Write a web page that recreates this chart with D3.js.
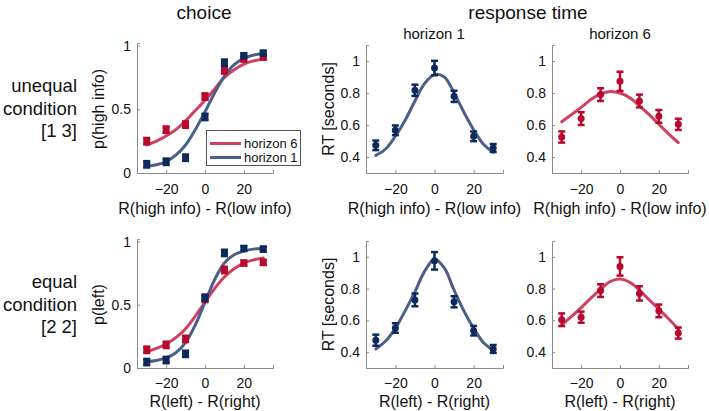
<!DOCTYPE html>
<html><head><meta charset="utf-8">
<script src="https://cdn.jsdelivr.net/npm/d3@7"></script>
<style>body{margin:0;background:#fff}svg{display:block;font-family:"Liberation Sans",Arial,sans-serif}</style>
</head><body><svg id="c" width="709" height="411"></svg>
<script>
// ---------- data ----------
const xs = [-30, -20, -10, 0, 10, 20, 30];
const fitX = [-30, -25, -20, -15, -10, -5, 0, 5, 10, 15, 20, 25, 30];
const xTicks = [-20, 0, 20];
const choiceTicks = [0, 0.5, 1];
const rtTicks = [0.4, 0.6, 0.8, 1];

// unequal condition [1 3]
const uneqChoiceH6 = [0.25, 0.34, 0.38, 0.60, 0.805, 0.895, 0.91];
const uneqChoiceH1 = [0.068, 0.088, 0.12, 0.44, 0.865, 0.92, 0.94];
const uneqChoiceFitH6 = [0.22, 0.25, 0.29, 0.34, 0.41, 0.49, 0.57, 0.66, 0.75, 0.81, 0.855, 0.88, 0.895];
const uneqChoiceFitH1 = [0.055, 0.065, 0.09, 0.14, 0.22, 0.34, 0.48, 0.63, 0.76, 0.85, 0.90, 0.925, 0.94];
const uneqRTH1 = [0.473, 0.567, 0.817, 0.956, 0.779, 0.529, 0.456];
const uneqRTH1Err = [0.03, 0.03, 0.035, 0.045, 0.035, 0.03, 0.025];
const uneqRTFitH1 = [0.41, 0.45, 0.53, 0.63, 0.75, 0.86, 0.915, 0.90, 0.80, 0.68, 0.57, 0.48, 0.43];
const uneqRTH6 = [0.525, 0.64, 0.79, 0.873, 0.75, 0.654, 0.604];
const uneqRTH6Err = [0.035, 0.04, 0.04, 0.06, 0.04, 0.04, 0.035];
const uneqRTFitH6 = [0.62, 0.665, 0.71, 0.76, 0.795, 0.81, 0.80, 0.77, 0.72, 0.665, 0.605, 0.545, 0.49];

// equal condition [2 2]
const eqChoiceH6 = [0.144, 0.183, 0.23, 0.546, 0.775, 0.83, 0.835];
const eqChoiceH1 = [0.047, 0.063, 0.112, 0.556, 0.91, 0.945, 0.94];
const eqChoiceFitH6 = [0.13, 0.155, 0.19, 0.24, 0.31, 0.41, 0.52, 0.63, 0.72, 0.785, 0.83, 0.855, 0.87];
const eqChoiceFitH1 = [0.05, 0.06, 0.08, 0.12, 0.20, 0.34, 0.52, 0.70, 0.83, 0.895, 0.925, 0.94, 0.945];
const eqRTH1 = [0.475, 0.552, 0.729, 0.975, 0.717, 0.535, 0.42];
const eqRTH1Err = [0.035, 0.03, 0.04, 0.055, 0.035, 0.03, 0.025];
const eqRTFitH1 = [0.42, 0.47, 0.55, 0.66, 0.78, 0.91, 0.985, 0.93, 0.79, 0.66, 0.55, 0.46, 0.41];
const eqRTH6 = [0.604, 0.62, 0.7875, 0.94, 0.77, 0.66, 0.52];
const eqRTH6Err = [0.04, 0.035, 0.04, 0.058, 0.045, 0.04, 0.035];
const eqRTFitH6 = [0.57, 0.625, 0.68, 0.74, 0.795, 0.845, 0.86, 0.84, 0.79, 0.73, 0.67, 0.61, 0.545];

const choiceErr = [0.025, 0.025, 0.025, 0.025, 0.025, 0.02, 0.02];

// ---------- style ----------
const RED_M = "#b8092f", RED_L = "#cf4061";
const BLUE_M = "#0e2a5c", BLUE_L = "#4b5f88";
const AXIS = "#8c8c8c";

const svg = d3.select("#c");
const cols = [[137, 273], [366, 503], [552, 688]];
const rows = [[173, 45], [368, 241]];
const tickPad = [11, 10];
const xlabOff = [41, 39];

function panel(col, row, type, opts) {
  const x = d3.scaleLinear().domain([-35, 35]).range(cols[col]);
  const y = type === "choice"
    ? d3.scaleLinear().domain([0, 1.02]).range([rows[row][0], rows[row][1] - 2])
    : d3.scaleLinear().domain([0.3, 1.1]).range(rows[row]);
  const g = svg.append("g");
  const xa = g.append("g").attr("transform", `translate(0,${rows[row][0]})`)
    .call(d3.axisBottom(x).tickValues(xTicks).tickSize(-3).tickPadding(tickPad[row]).tickFormat(d3.format("d")));
  const ya = g.append("g").attr("transform", `translate(${cols[col][0]},0)`)
    .call(d3.axisLeft(y).tickValues(type === "choice" ? choiceTicks : rtTicks).tickSize(-3).tickPadding(6)
      .tickFormat(d => String(d)));
  [xa, ya].forEach(a => {
    a.select(".domain").attr("stroke", AXIS).attr("stroke-width", 1);
    a.selectAll(".tick line").attr("stroke", AXIS);
    a.selectAll(".tick text").attr("fill", "#111").attr("font-size", 14).attr("font-family", "Liberation Sans, Arial, sans-serif");
  });
  const line = d3.line().x((d, i) => x(fitX[i])).y(d => y(d)).curve(d3.curveCatmullRom);
  opts.series.forEach(s => {
    g.append("path").datum(s.fit).attr("d", line).attr("fill", "none")
      .attr("stroke", s.lc).attr("stroke-width", 3).attr("stroke-linecap", "round");
  });
  opts.series.forEach(s => {
    const pts = g.append("g");
    s.vals.forEach((v, i) => {
      const e = s.err[i];
      const cx = x(xs[i]);
      pts.append("line").attr("x1", cx).attr("x2", cx).attr("y1", y(v - e)).attr("y2", y(v + e))
        .attr("stroke", s.mc).attr("stroke-width", 2.5);
      [v - e, v + e].forEach(b => pts.append("line").attr("x1", cx - 3.5).attr("x2", cx + 3.5)
        .attr("y1", y(b)).attr("y2", y(b)).attr("stroke", s.mc).attr("stroke-width", 2.5));
      if (s.shape === "square") {
        pts.append("rect").attr("x", cx - 3.5).attr("y", y(v) - 3.5).attr("width", 7).attr("height", 7).attr("fill", s.mc);
      } else {
        pts.append("circle").attr("cx", cx).attr("cy", y(v)).attr("r", 3.5).attr("fill", s.mc);
      }
    });
  });
  const cx = (cols[col][0] + cols[col][1]) / 2;
  g.append("text").attr("x", cx).attr("y", rows[row][0] + xlabOff[row]).attr("text-anchor", "middle")
    .attr("font-size", 16).attr("fill", "#111").text(opts.xlabel);
  if (opts.ylabel) {
    const cy = (rows[row][0] + rows[row][1]) / 2;
    g.append("text").attr("transform", `translate(${opts.ylx},${cy}) rotate(-90)`).attr("text-anchor", "middle")
      .attr("font-size", 16).attr("fill", "#111").text(opts.ylabel);
  }
  return { x, y, g };
}

panel(0, 0, "choice", {
  xlabel: "R(high info) - R(low info)", ylabel: "p(high info)", ylx: 104,
  series: [
    { vals: uneqChoiceH6, err: choiceErr, fit: uneqChoiceFitH6, mc: RED_M, lc: RED_L, shape: "square" },
    { vals: uneqChoiceH1, err: choiceErr, fit: uneqChoiceFitH1, mc: BLUE_M, lc: BLUE_L, shape: "square" }
  ]
});
panel(1, 0, "rt", {
  xlabel: "R(high info) - R(low info)", ylabel: "RT [seconds]", ylx: 334,
  series: [{ vals: uneqRTH1, err: uneqRTH1Err, fit: uneqRTFitH1, mc: BLUE_M, lc: BLUE_L, shape: "circle" }]
});
panel(2, 0, "rt", {
  xlabel: "R(high info) - R(low info)",
  series: [{ vals: uneqRTH6, err: uneqRTH6Err, fit: uneqRTFitH6, mc: RED_M, lc: RED_L, shape: "circle" }]
});
panel(0, 1, "choice", {
  xlabel: "R(left) - R(right)", ylabel: "p(left)", ylx: 104,
  series: [
    { vals: eqChoiceH6, err: choiceErr, fit: eqChoiceFitH6, mc: RED_M, lc: RED_L, shape: "square" },
    { vals: eqChoiceH1, err: choiceErr, fit: eqChoiceFitH1, mc: BLUE_M, lc: BLUE_L, shape: "square" }
  ]
});
panel(1, 1, "rt", {
  xlabel: "R(left) - R(right)", ylabel: "RT [seconds]", ylx: 334,
  series: [{ vals: eqRTH1, err: eqRTH1Err, fit: eqRTFitH1, mc: BLUE_M, lc: BLUE_L, shape: "circle" }]
});
panel(2, 1, "rt", {
  xlabel: "R(left) - R(right)",
  series: [{ vals: eqRTH6, err: eqRTH6Err, fit: eqRTFitH6, mc: RED_M, lc: RED_L, shape: "circle" }]
});

// legend
const leg = svg.append("g");
leg.append("rect").attr("x", 206.5).attr("y", 130.5).attr("width", 94).attr("height", 35)
  .attr("fill", "#fff").attr("stroke", "#555").attr("stroke-width", 1);
[["horizon 6", RED_L, 143.5], ["horizon 1", BLUE_L, 157.5]].forEach(([t, c, yy]) => {
  leg.append("line").attr("x1", 210).attr("x2", 241).attr("y1", yy).attr("y2", yy).attr("stroke", c).attr("stroke-width", 3);
  leg.append("text").attr("x", 244).attr("y", yy + 4.5).attr("font-size", 13).attr("fill", "#111").text(t);
});

// titles
svg.append("text").attr("x", 204).attr("y", 19).attr("text-anchor", "middle").attr("font-size", 19).attr("fill", "#111").text("choice");
svg.append("text").attr("x", 528).attr("y", 19).attr("text-anchor", "middle").attr("font-size", 19).attr("fill", "#111").text("response time");
svg.append("text").attr("x", 434).attr("y", 39).attr("text-anchor", "middle").attr("font-size", 15).attr("fill", "#111").text("horizon 1");
svg.append("text").attr("x", 620).attr("y", 39).attr("text-anchor", "middle").attr("font-size", 15).attr("fill", "#111").text("horizon 6");

// row labels
const rowLabels = [["unequal", "condition", "[1 3]"], ["equal", "condition", "[2 2]"]];
const rowBase = [92, 288];
rowLabels.forEach((lines, r) => {
  lines.forEach((t, i) => svg.append("text").attr("x", 77).attr("y", rowBase[r] + i * 22.5)
    .attr("text-anchor", "end").attr("font-size", 18.5).attr("fill", "#111").text(t));
});
</script></body></html>
